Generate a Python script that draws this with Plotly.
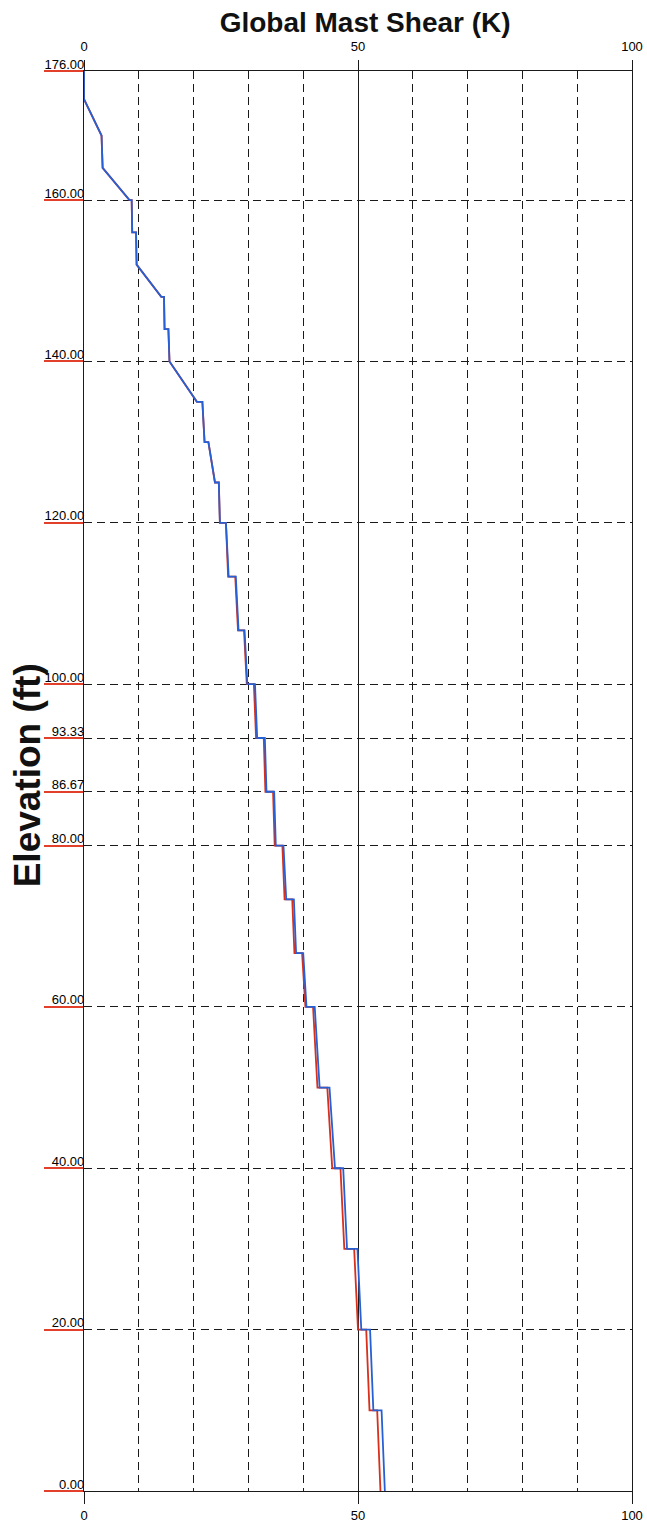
import plotly.graph_objects as go

# ---- data ----
elevation_ft = [176, 172.5, 168, 164, 160, 160, 156, 156, 152, 148, 148, 144, 144, 140,
                135, 135, 130, 130, 125, 125, 120, 120, 113.33, 113.33, 106.67, 106.67,
                100, 100, 93.33, 93.33, 86.67, 86.67, 80, 80, 73.33, 73.33, 66.67, 66.67,
                60, 60, 50, 50, 40, 40, 30, 30, 20, 20, 10, 10, 0]
shear_blue_k = [0, 0, 3.2, 3.4, 8.3, 8.7, 8.8, 9.5, 9.6, 14.1, 14.6, 14.7, 15.4, 15.6,
                20.6, 21.6, 22.0, 22.7, 23.9, 24.6, 24.8, 25.9, 26.4, 27.7, 28.2, 29.3,
                29.8, 31.2, 31.6, 33.0, 33.3, 34.7, 35.0, 36.4, 36.9, 38.3, 38.7, 40.0,
                40.6, 42.1, 43.0, 44.8, 45.8, 47.3, 48.0, 49.9, 50.6, 52.2, 52.8, 54.3, 54.9]
shear_red_k = [0, 0, 3.2, 3.4, 8.3, 8.7, 8.8, 9.5, 9.6, 14.1, 14.6, 14.7, 15.4, 15.6,
               20.6, 21.6, 22.0, 22.7, 23.9, 24.6, 24.8, 25.9, 26.3, 27.6, 28.1, 29.2,
               29.7, 31.0, 31.4, 32.8, 33.1, 34.5, 34.8, 36.2, 36.6, 38.0, 38.4, 39.8,
               40.4, 41.8, 42.6, 44.4, 45.3, 46.8, 47.5, 49.3, 50.0, 51.5, 52.1, 53.5, 54.1]

x_tick_vals = [0, 50, 100]
x_tick_text = ["0", "50", "100"]
y_tick_vals = [176, 160, 140, 120, 100, 93.33, 86.67, 80, 60, 40, 20, 0]
y_tick_text = ["176.00", "160.00", "140.00", "120.00", "100.00", "93.33", "86.67",
               "80.00", "60.00", "40.00", "20.00", "0.00"]

FONT = "Liberation Sans, Arial, sans-serif"
GRID = "#1a1a1a"

fig = go.Figure()
fig.add_trace(go.Scatter(x=shear_red_k, y=elevation_ft, mode="lines",
                         line=dict(color="#d9301c", width=1.8), xaxis="x", yaxis="y",
                         showlegend=False, hoverinfo="skip"))
fig.add_trace(go.Scatter(x=shear_blue_k, y=elevation_ft, mode="lines",
                         line=dict(color="#2760d4", width=1.8), xaxis="x2", yaxis="y",
                         showlegend=False, hoverinfo="skip"))

fig.update_layout(
    width=647, height=1524,
    margin=dict(l=84, r=15, t=71, b=33, autoexpand=False),
    paper_bgcolor="white", plot_bgcolor="white",
    font=dict(family=FONT, color="black", size=13),
    title=dict(text="<b>Global Mast Shear (K)</b>", x=0.513, xref="paper", xanchor="center",
               y=1 - 22 / 1524, yref="container", yanchor="middle",
               font=dict(family=FONT, size=28, color="#111")),
    xaxis=dict(range=[0, 100], tickvals=x_tick_vals, ticktext=x_tick_text,
               side="bottom", ticks="outside", ticklen=12, tickwidth=1.3, tickcolor=GRID,
               showgrid=True, gridcolor=GRID, gridwidth=1.3,
               minor=dict(dtick=10, tick0=0, showgrid=True, gridcolor=GRID,
                          gridwidth=1.3, griddash="8px,5px", ticks=""),
               showline=True, linecolor=GRID, linewidth=1.3, mirror=True,
               zeroline=False, tickfont=dict(size=13), automargin=False),
    xaxis2=dict(range=[0, 100], matches="x", overlaying="x", side="top",
                tickvals=x_tick_vals, ticktext=x_tick_text,
                ticks="outside", ticklen=10, tickwidth=1.3, tickcolor=GRID,
                ticklabelstandoff=4,
                showgrid=False, zeroline=False, showline=False,
                tickfont=dict(size=13), automargin=False),
    yaxis=dict(range=[0, 176], tickvals=y_tick_vals, ticktext=y_tick_text,
               ticks="outside", ticklen=39, tickwidth=1.7, tickcolor="#e2402a",
               ticklabelstandoff=-43, ticklabelshift=-7,
               showgrid=True, gridcolor=GRID, gridwidth=1.3, griddash="8px,5px",
               showline=True, linecolor=GRID, linewidth=1.3, mirror=True,
               zeroline=False, tickfont=dict(size=13), automargin=False),
    annotations=[dict(text="<b>Elevation (ft)</b>", xref="paper", yref="paper",
                      x=-0.104, y=0.504, xanchor="center", yanchor="middle",
                      textangle=-90, showarrow=False,
                      font=dict(family=FONT, size=37, color="#111"))],
)

fig.write_html("out.html", config={"displayModeBar": False},
               post_script="document.body.style.margin='0';document.body.style.overflow='hidden';")
